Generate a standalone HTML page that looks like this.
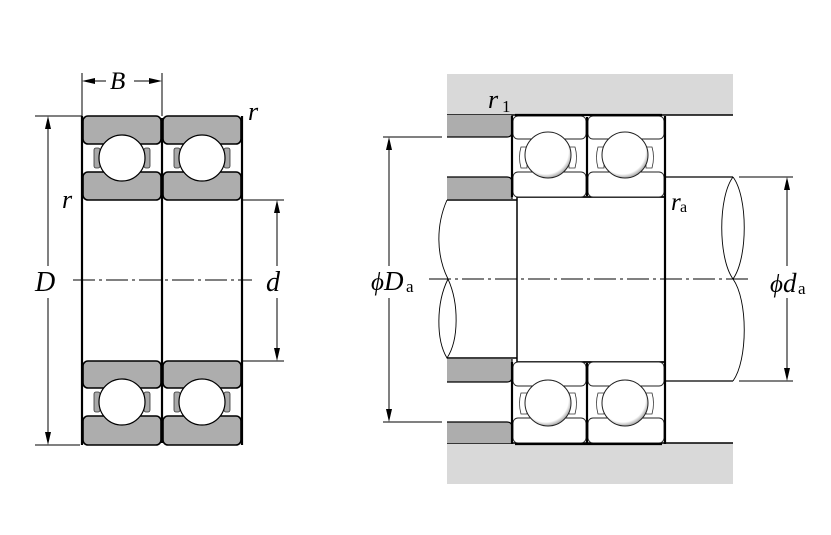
<!DOCTYPE html>
<html><head><meta charset="utf-8"><style>
html,body{margin:0;padding:0;background:#fff;}
svg{display:block;}
text{font-family:"Liberation Serif","DejaVu Serif",serif;}
</style></head><body>
<svg width="831" height="535" viewBox="0 0 831 535" xmlns="http://www.w3.org/2000/svg">
<defs>
<radialGradient id="bg" cx="0.45" cy="0.42" r="0.58">
<stop offset="0.85" stop-color="#fff"/><stop offset="1" stop-color="#aaa"/>
</radialGradient>
</defs>
<rect width="831" height="535" fill="#fff"/>

<!-- ============ LEFT BEARING ============ -->
<g stroke="#000" stroke-width="1.6" fill="#adadad">
<rect x="83" y="116" width="78" height="28" rx="5"/>
<rect x="83" y="172" width="78" height="28" rx="5"/>
<rect x="163" y="116" width="78" height="28" rx="5"/>
<rect x="163" y="172" width="78" height="28" rx="5"/>
<rect x="83" y="361" width="78" height="27" rx="5"/>
<rect x="83" y="416" width="78" height="29" rx="5"/>
<rect x="163" y="361" width="78" height="27" rx="5"/>
<rect x="163" y="416" width="78" height="29" rx="5"/>
</g>
<g stroke="#333" stroke-width="0.8" fill="#a8a8a8">
<rect x="94" y="148" width="6" height="20" rx="2"/>
<rect x="144" y="148" width="6" height="20" rx="2"/>
<rect x="174" y="148" width="6" height="20" rx="2"/>
<rect x="224" y="148" width="6" height="20" rx="2"/>
<rect x="94" y="392" width="6" height="20" rx="2"/>
<rect x="144" y="392" width="6" height="20" rx="2"/>
<rect x="174" y="392" width="6" height="20" rx="2"/>
<rect x="224" y="392" width="6" height="20" rx="2"/>
</g>
<g stroke="#000" stroke-width="1.2" fill="#fff">
<circle cx="122" cy="158" r="23"/>
<circle cx="202" cy="158" r="23"/>
<circle cx="122" cy="402" r="23"/>
<circle cx="202" cy="402" r="23"/>
</g>
<g stroke="#000" stroke-width="2.2">
<line x1="82" y1="116" x2="82" y2="445"/>
<line x1="162" y1="118" x2="162" y2="443"/>
<line x1="242" y1="116" x2="242" y2="445"/>
</g>
<line x1="73" y1="280" x2="252" y2="280" stroke="#000" stroke-width="1" stroke-dasharray="22 4 3 4"/>

<g stroke="#000" stroke-width="1" fill="none">
<line x1="35" y1="116" x2="82" y2="116"/>
<line x1="35" y1="445" x2="80" y2="445"/>
<line x1="48" y1="118" x2="48" y2="266"/>
<line x1="48" y1="298" x2="48" y2="443"/>
<line x1="242" y1="200" x2="284" y2="200"/>
<line x1="242" y1="361" x2="284" y2="361"/>
<line x1="277" y1="202" x2="277" y2="266"/>
<line x1="277" y1="298" x2="277" y2="359"/>
<line x1="82" y1="73" x2="82" y2="116"/>
<line x1="162" y1="73" x2="162" y2="116"/>
<line x1="84" y1="81" x2="106" y2="81"/>
<line x1="134" y1="81" x2="160" y2="81"/>
</g>
<g fill="#000">
<polygon points="48,116 45,129 51,129"/>
<polygon points="48,445 45,432 51,432"/>
<polygon points="277,200 274,213 280,213"/>
<polygon points="277,361 274,348 280,348"/>
<polygon points="82,81 95,78 95,84"/>
<polygon points="162,81 149,78 149,84"/>
</g>
<g font-style="italic" fill="#000" font-family="Liberation Serif, serif">
<text x="110" y="89" font-size="25">B</text>
<text x="35" y="291" font-size="28">D</text>
<text x="266" y="291" font-size="28">d</text>
<text x="248" y="120" font-size="26">r</text>
<text x="62" y="208" font-size="26">r</text>
</g>

<!-- ============ RIGHT ASSEMBLY ============ -->
<rect x="447" y="74" width="286" height="41" fill="#d9d9d9"/>
<line x1="447" y1="115" x2="733" y2="115" stroke="#000" stroke-width="1.5"/>
<rect x="447" y="443" width="286" height="41" fill="#d9d9d9"/>
<line x1="447" y1="443" x2="733" y2="443" stroke="#000" stroke-width="1.5"/>

<g fill="#fff" stroke="none">
<rect x="445" y="200" width="75" height="158"/>
<rect x="517" y="197" width="148" height="165"/>
<rect x="665" y="177" width="70" height="204"/>
</g>
<g stroke="#000" fill="none">
<line x1="447" y1="200" x2="517" y2="200" stroke-width="1.5"/>
<line x1="447" y1="358" x2="517" y2="358" stroke-width="1.5"/>
<line x1="517" y1="197" x2="517" y2="362" stroke-width="1.5"/>
<line x1="517" y1="197" x2="665" y2="197" stroke-width="1.8"/>
<line x1="517" y1="362" x2="665" y2="362" stroke-width="1.8"/>
<line x1="665" y1="177" x2="733" y2="177" stroke-width="1.3"/>
<line x1="665" y1="381" x2="733" y2="381" stroke-width="1.3"/>
<path d="M447,200 C436,225 436,255 448,279" stroke-width="0.9"/>
<path d="M448,279 C436,303 436,340 447,358 C459,340 459,303 448,279" stroke-width="0.9"/>
<path d="M733,177 C718,197 718,258 733,279 C748,258 748,197 733,177" stroke-width="0.9"/>
<path d="M733,279 C748,300 748,360 733,381" stroke-width="0.9"/>
</g>

<g fill="#adadad" stroke="none">
<path d="M447,115 L512,115 L512,132 Q512,137 507,137 L447,137 Z"/>
<path d="M447,199 L512,199 L512,182 Q512,177 507,177 L447,177 Z"/>
<path d="M447,359 L512,359 L512,377 Q512,382 507,382 L447,382 Z"/>
<path d="M447,443 L512,443 L512,427 Q512,422 507,422 L447,422 Z"/>
</g>
<g stroke="#000" stroke-width="1.2" fill="none">
<path d="M512,115 L512,132 Q512,137 507,137 L447,137"/>
<path d="M447,177 L507,177 Q512,177 512,182 L512,199"/>
<path d="M512,359 L512,377 Q512,382 507,382 L447,382"/>
<path d="M447,422 L507,422 Q512,422 512,427 L512,443"/>
</g>

<g stroke="#222" stroke-width="0.9" fill="#fff">
<rect x="513" y="116" width="73" height="23" rx="5"/>
<rect x="513" y="172" width="73" height="25" rx="5"/>
<rect x="588" y="116" width="76" height="23" rx="5"/>
<rect x="588" y="172" width="76" height="25" rx="5"/>
<rect x="513" y="362" width="73" height="24" rx="5"/>
<rect x="513" y="418" width="73" height="25" rx="5"/>
<rect x="588" y="362" width="76" height="24" rx="5"/>
<rect x="588" y="418" width="76" height="25" rx="5"/>
</g>
<g stroke="#333" stroke-width="0.8" fill="#fff">
<path d="M527,147 L521,147 Q518,157 521,168 L527,168 Z"/>
<path d="M569,147 L575,147 Q578,157 575,168 L569,168 Z"/>
<path d="M604,147 L598,147 Q595,157 598,168 L604,168 Z"/>
<path d="M646,147 L652,147 Q655,157 652,168 L646,168 Z"/>
<path d="M527,393 L521,393 Q518,403 521,414 L527,414 Z"/>
<path d="M569,393 L575,393 Q578,403 575,414 L569,414 Z"/>
<path d="M604,393 L598,393 Q595,403 598,414 L604,414 Z"/>
<path d="M646,393 L652,393 Q655,403 652,414 L646,414 Z"/>
</g>
<g stroke="#222" stroke-width="1" fill="url(#bg)">
<circle cx="548" cy="155" r="23"/>
<circle cx="625" cy="155" r="23"/>
<circle cx="548" cy="403" r="23"/>
<circle cx="625" cy="403" r="23"/>
</g>
<g stroke="#000" stroke-width="2.2" fill="none">
<line x1="512" y1="116" x2="512" y2="197"/>
<line x1="587" y1="117" x2="587" y2="196"/>
<line x1="665" y1="116" x2="665" y2="444"/>
<line x1="512" y1="362" x2="512" y2="444"/>
<line x1="587" y1="363" x2="587" y2="443"/>
<line x1="515" y1="115" x2="662" y2="115"/>
<line x1="515" y1="444" x2="662" y2="444"/>
</g>

<line x1="429" y1="279" x2="748" y2="279" stroke="#000" stroke-width="1" stroke-dasharray="22 4 3 4"/>

<g stroke="#000" stroke-width="1" fill="none">
<line x1="383" y1="137" x2="442" y2="137"/>
<line x1="383" y1="422" x2="442" y2="422"/>
<line x1="389" y1="139" x2="389" y2="266"/>
<line x1="389" y1="298" x2="389" y2="420"/>
<line x1="739" y1="177" x2="793" y2="177"/>
<line x1="739" y1="381" x2="793" y2="381"/>
<line x1="787" y1="179" x2="787" y2="266"/>
<line x1="787" y1="298" x2="787" y2="379"/>
</g>
<g fill="#000">
<polygon points="389,137 386,150 392,150"/>
<polygon points="389,422 386,409 392,409"/>
<polygon points="787,177 784,190 790,190"/>
<polygon points="787,381 784,368 790,368"/>
</g>
<g fill="#000" font-family="Liberation Serif, serif">
<text x="488" y="108" font-size="26" font-style="italic">r</text>
<text x="502" y="112" font-size="17">1</text>
<text x="671" y="210" font-size="25" font-style="italic">r</text>
<text x="680" y="212" font-size="16">a</text>
<text x="371" y="290" font-size="25" font-style="italic">ϕ</text>
<text x="384" y="290" font-size="27" font-style="italic">D</text>
<text x="406" y="292" font-size="17">a</text>
<text x="770" y="292" font-size="25" font-style="italic">ϕ</text>
<text x="783" y="292" font-size="27" font-style="italic">d</text>
<text x="798" y="294" font-size="17">a</text>
</g>
</svg>
</body></html>
